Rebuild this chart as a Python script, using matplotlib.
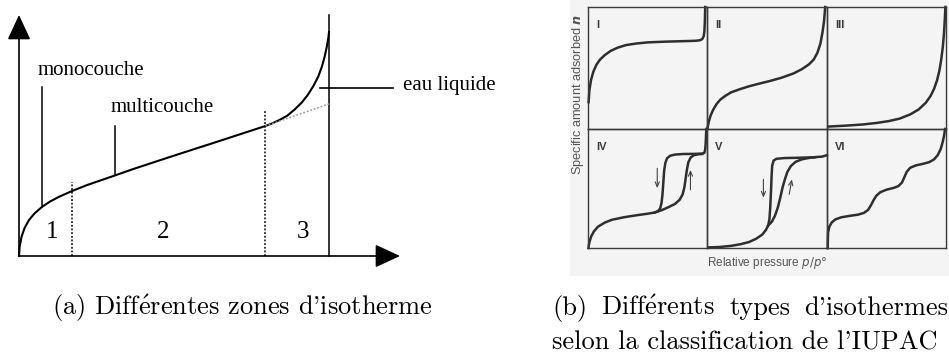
import matplotlib.pyplot as plt
from matplotlib.patches import Rectangle

W, H = 949, 356

# (a) zones of a sorption isotherm (normalised pressure / water content)
iso_x = [0.0, 0.002, 0.008, 0.018, 0.032, 0.05, 0.074, 0.10, 0.13, 0.171, 0.22, 0.30,
         0.37, 0.50, 0.65, 0.794, 0.815, 0.84, 0.865, 0.89, 0.912, 0.932, 0.95, 0.965,
         0.977, 0.986, 0.993, 0.998, 1.0]
iso_y = [0.0, 0.04, 0.085, 0.125, 0.16, 0.19, 0.219, 0.243, 0.265, 0.29, 0.317, 0.355,
         0.389, 0.448, 0.515, 0.58, 0.591, 0.607, 0.626, 0.655, 0.685, 0.72, 0.76, 0.80,
         0.845, 0.89, 0.935, 0.975, 1.0]
multi_ext_x = [0.794, 1.0]
multi_ext_y = [0.58, 0.679]
bound_x = [0.171, 0.794]
bound_top = [0.33, 0.652]
zone_names = ['1', '2', '3']
zone_x = [0.106, 0.465, 0.916]

# (b) IUPAC isotherm types, each in its own unit cell
t1_x = [0.005, 0.012, 0.025, 0.045, 0.07, 0.10, 0.14, 0.19, 0.25, 0.32, 0.4, 0.5, 0.65,
        0.8, 0.9, 0.94, 0.96, 0.972, 0.978, 0.982, 0.985]
t1_y = [0.22, 0.32, 0.40, 0.47, 0.525, 0.568, 0.605, 0.64, 0.667, 0.688, 0.70, 0.71, 0.716,
        0.72, 0.723, 0.727, 0.737, 0.76, 0.80, 0.88, 1.0]
t2_x = [0.005, 0.015, 0.03, 0.05, 0.08, 0.11, 0.15, 0.2, 0.27, 0.35, 0.44, 0.53, 0.62,
        0.72, 0.79, 0.85, 0.89, 0.92, 0.945, 0.962, 0.975, 0.985]
t2_y = [0.01, 0.06, 0.11, 0.155, 0.205, 0.24, 0.27, 0.3, 0.325, 0.35, 0.373, 0.395, 0.42,
        0.455, 0.49, 0.53, 0.57, 0.625, 0.7, 0.79, 0.88, 1.0]
t3_x = [0.01, 0.15, 0.3, 0.42, 0.52, 0.61, 0.7, 0.77, 0.83, 0.87, 0.9, 0.925, 0.945, 0.96,
        0.973, 0.983, 0.99, 0.995]
t3_y = [0.02, 0.027, 0.037, 0.05, 0.065, 0.085, 0.12, 0.16, 0.215, 0.27, 0.33, 0.4, 0.48,
        0.57, 0.67, 0.78, 0.9, 1.0]
t4_x = [0.004, 0.008, 0.015, 0.028, 0.05, 0.085, 0.14, 0.2, 0.3, 0.4, 0.5, 0.56, 0.59,
        0.607, 0.618, 0.626, 0.633, 0.64, 0.65, 0.665, 0.69, 0.73, 0.8, 0.9, 0.96, 0.978,
        0.985, 0.989, 0.992, 0.994]
t4_y = [0.0, 0.03, 0.06, 0.1, 0.14, 0.18, 0.213, 0.237, 0.258, 0.274, 0.288, 0.298, 0.31,
        0.335, 0.38, 0.45, 0.55, 0.65, 0.715, 0.755, 0.775, 0.785, 0.79, 0.791, 0.793, 0.8,
        0.83, 0.88, 0.95, 1.0]
t4_ads_x = [0.56, 0.62, 0.68, 0.73, 0.77, 0.795, 0.81, 0.82, 0.83, 0.843, 0.862, 0.89,
            0.93, 0.96]
t4_ads_y = [0.298, 0.318, 0.345, 0.37, 0.405, 0.45, 0.51, 0.58, 0.65, 0.72, 0.76, 0.78,
            0.788, 0.79]
t5_x = [0.01, 0.1, 0.2, 0.28, 0.35, 0.41, 0.46, 0.49, 0.51, 0.52, 0.527, 0.533, 0.538,
        0.543, 0.555, 0.58, 0.65, 0.75, 0.88, 0.96, 1.0]
t5_y = [0.005, 0.008, 0.018, 0.032, 0.05, 0.078, 0.112, 0.15, 0.19, 0.24, 0.34, 0.47, 0.6,
        0.69, 0.735, 0.75, 0.756, 0.758, 0.762, 0.768, 0.78]
t5_ads_x = [0.51, 0.54, 0.566, 0.59, 0.61, 0.63, 0.65, 0.67, 0.7, 0.74, 0.79, 0.85, 0.9]
t5_ads_y = [0.19, 0.22, 0.27, 0.34, 0.42, 0.51, 0.58, 0.64, 0.69, 0.725, 0.745, 0.757,
            0.762]
t6_x = [0.006, 0.007, 0.009, 0.02, 0.04, 0.07, 0.12, 0.19, 0.26, 0.31, 0.345, 0.37, 0.39,
        0.415, 0.45, 0.5, 0.56, 0.6, 0.63, 0.65, 0.67, 0.7, 0.75, 0.81, 0.86, 0.9, 0.93,
        0.955, 0.972, 0.985, 0.992]
t6_y = [0.0, 0.06, 0.13, 0.18, 0.215, 0.24, 0.258, 0.27, 0.28, 0.295, 0.32, 0.36, 0.40,
        0.44, 0.47, 0.49, 0.505, 0.52, 0.55, 0.595, 0.64, 0.675, 0.695, 0.708, 0.722, 0.745,
        0.78, 0.83, 0.89, 0.95, 1.0]
type_names = ['I', 'II', 'III', 'IV', 'V', 'VI']

# hysteresis arrows (x_start, y_start, x_end, y_end)
desorb_arrows = [(0.582, 0.67, 0.582, 0.503), (0.47, 0.577, 0.47, 0.423)]
adsorb_arrows = [(0.861, 0.489, 0.861, 0.656), (0.685, 0.451, 0.707, 0.577)]

plt.rcParams['mathtext.fontset'] = 'cm'


def px_axes(fig, left, top, right, bottom):
    return fig.add_axes([left / W, 1 - bottom / H, (right - left) / W, (bottom - top) / H])


fig = plt.figure(figsize=(W / 100, H / 100), dpi=100)

# scanned panel background
fig.add_artist(Rectangle((570 / W, 1 - 276 / H), (W - 570) / W, 276 / H,
                         transform=fig.transFigure, color='#f4f4f4', lw=0, zorder=0))

# ---- (a) ----
ax = px_axes(fig, 19, 32, 329, 256)
ax.set_xlim(0, 1)
ax.set_ylim(0, 1)
ax.axis('off')
serif = ['Liberation Serif', 'DejaVu Serif']
head = dict(arrowstyle='-|>,head_length=1.55,head_width=0.72', mutation_scale=10,
            lw=1.2, color='black', shrinkA=0, shrinkB=0)
ax.annotate('', xy=(0, 1.076), xytext=(0, 0), arrowprops=head, annotation_clip=False)
ax.annotate('', xy=(1.229, 0), xytext=(0, 0), arrowprops=head, annotation_clip=False)
ax.plot([1.0, 1.0], [0, 1.076], color='black', lw=1.1, clip_on=False)
ax.plot(iso_x, iso_y, color='black', lw=1.5, clip_on=False, solid_joinstyle='round')
ax.plot(multi_ext_x, multi_ext_y, color='#999999', lw=1.1, ls=(0, (1.2, 1.2)), clip_on=False)
for bx, bt in zip(bound_x, bound_top):
    ax.plot([bx, bx], [0, bt], color='black', lw=1.1, ls=(0, (1.2, 1.2)))
for name, zx in zip(zone_names, zone_x):
    ax.text(zx, 0.107, name, fontsize=18, family=serif, ha='center', va='center')

ax.plot([0.074, 0.074], [0.219, 0.754], color='black', lw=1.1)
ax.plot([0.31, 0.31], [0.362, 0.58], color='black', lw=1.1)
ax.plot([0.971, 1.206], [0.75, 0.75], color='black', lw=1.2, clip_on=False)
ax.text(0.061, 0.83, 'monocouche', fontsize=15, family=serif, va='center')
ax.text(0.294, 0.661, 'multicouche', fontsize=15, family=serif, va='center')
ax.text(1.239, 0.759, 'eau liquide', fontsize=15, family=serif, va='center')

# ---- (b) ----
cols = [588, 707, 827, 946]
rows = [7, 129, 248]
ink = '#2e2e2e'
curves = [[(t1_x, t1_y)], [(t2_x, t2_y)], [(t3_x, t3_y)],
          [(t4_x, t4_y), (t4_ads_x, t4_ads_y)], [(t5_x, t5_y), (t5_ads_x, t5_ads_y)],
          [(t6_x, t6_y)]]
for i, name in enumerate(type_names):
    r, c = divmod(i, 3)
    cax = px_axes(fig, cols[c], rows[r], cols[c + 1], rows[r + 1])
    cax.set_xlim(0, 1)
    cax.set_ylim(0, 1)
    cax.set_facecolor('none')
    cax.set_xticks([])
    cax.set_yticks([])
    for sp in cax.spines.values():
        sp.set_color('#3a3a3a')
        sp.set_linewidth(1.0)
    for cx, cy in curves[i]:
        cax.plot(cx, cy, color=ink, lw=1.8, clip_on=False, solid_joinstyle='round')
    cax.text(0.07, 0.85, name, fontsize=8, fontweight='bold', family='Liberation Sans',
             color='#3a3a3a', ha='left', va='center')
    if name in ('IV', 'V'):
        k = 0 if name == 'IV' else 1
        for x0, y0, x1, y1 in (desorb_arrows[k], adsorb_arrows[k]):
            cax.annotate('', xy=(x1, y1), xytext=(x0, y0),
                         arrowprops=dict(arrowstyle='->,head_length=0.35,head_width=0.15',
                                         mutation_scale=10, lw=0.8, color='#444444',
                                         shrinkA=0, shrinkB=0))

fig.text(578 / W, 1 - 94 / H, 'Specific amount adsorbed $\\boldsymbol{n}$', rotation=90,
         fontsize=9.2, family='Liberation Sans', color='#555555', ha='center', va='center',
         math_fontfamily='dejavusans')
fig.text(767 / W, 1 - 263 / H, 'Relative pressure $\\mathbf{\\it p/p°}$', fontsize=8.5,
         family='Liberation Sans', color='#555555', ha='center', va='center',
         math_fontfamily='dejavusans')

# ---- captions ----
cm = ['cmr10', 'DejaVu Serif']
e_acute = '$\\mathrm{\\acute{e}}$'
fig.text(52 / W, 1 - 315 / H, "(a) Diff" + e_acute + "rentes zones d'isotherme",
         fontsize=19, family=cm, va='baseline')

# first line of (b) is justified between the two margins
line1 = ['(b)', 'Diff' + e_acute + 'rents', 'types', "d'isothermes"]
left, right = 552, 948
words = [fig.text(left / W, 1 - 315 / H, w, fontsize=19, family=cm, va='baseline')
         for w in line1]
renderer = fig.canvas.get_renderer()
widths = [t.get_window_extent(renderer).width for t in words]
gap = (right - left - sum(widths)) / (len(words) - 1)
pos = left
for t, w in zip(words, widths):
    t.set_x(pos / W)
    pos += w + gap
fig.text(552 / W, 1 - 349.5 / H, "selon la classification de l'IUPAC", fontsize=19,
         family=cm, va='baseline')

fig.savefig('out.png', dpi=100)
